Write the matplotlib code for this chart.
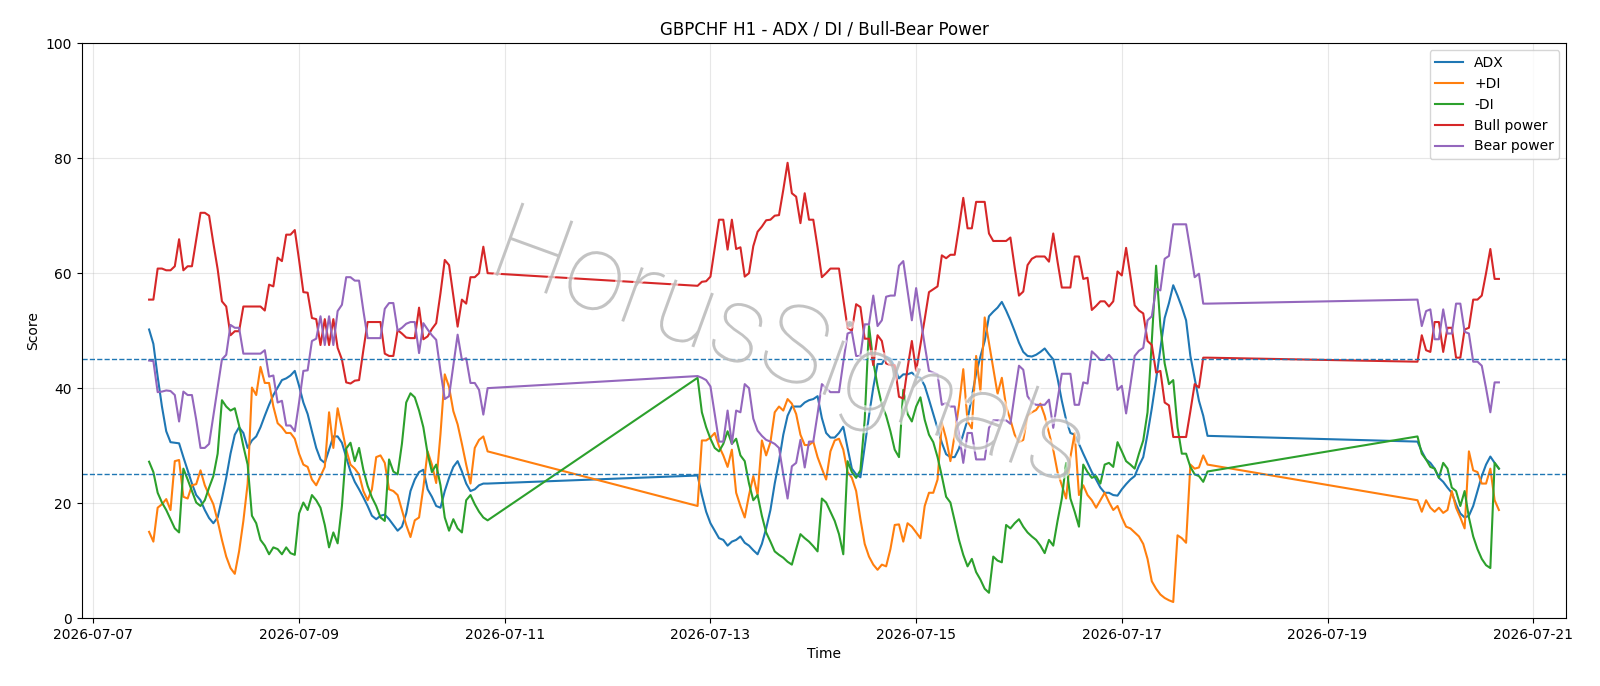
import pandas as pd
import matplotlib
matplotlib.use("Agg")
import matplotlib.pyplot as plt
import matplotlib.dates as mdates
import matplotlib.patheffects as pe

# hourly bars, three trading blocks (weekends missing)
seg_starts = ["2026-07-07 13:00", "2026-07-12 21:00", "2026-07-19 21:00"]
seg_lengths = [80, 120, 20]

adx = [
    50.2, 47.7, 42.0, 36.8, 32.5, 30.6, 30.5, 30.4, 28.0, 25.7,
    23.4, 21.4, 20.5, 18.8, 17.4, 16.5, 17.5, 20.8, 24.4, 28.6,
    31.9, 33.2, 32.2, 29.6, 30.9, 31.6, 33.2, 35.2, 37.1, 38.8,
    40.1, 41.4, 41.7, 42.2, 43.0, 40.4, 37.5, 35.5, 32.5, 29.6,
    27.6, 27.0, 29.3, 31.6, 31.6, 30.5, 28.0, 25.5, 23.7, 22.4,
    21.0, 19.5, 17.8, 17.2, 17.8, 18.0, 17.2, 16.2, 15.2, 15.9,
    18.2, 22.1, 24.1, 25.4, 25.8, 22.4, 21.1, 19.5, 19.2, 22.1,
    24.4, 26.3, 27.3, 25.5, 23.4, 22.1, 22.4, 23.1, 23.4, 23.4,
    # week 2
    24.8, 21.4, 18.5, 16.5, 15.2, 13.9, 13.6, 12.6, 13.3, 13.6,
    14.2, 13.1, 12.6, 11.8, 11.1, 12.9, 15.6, 18.8, 23.4, 27.3,
    31.9, 35.2, 36.8, 36.8, 36.8, 37.5, 37.9, 38.1, 38.6, 34.8,
    32.2, 31.4, 31.4, 32.2, 33.3, 29.6, 26.0, 25.0, 24.5, 29.9,
    35.2, 40.1, 44.2, 44.2, 45.5, 45.1, 43.7, 41.7, 42.4, 42.4,
    42.7, 42.0, 41.8, 40.4, 38.0, 35.5, 33.0, 30.5, 28.5, 28.0,
    28.0, 29.5, 32.0, 34.5, 38.5, 42.5, 45.5, 48.2, 52.5, 53.3,
    54.0, 55.0, 53.5, 51.8, 49.9, 47.9, 46.3, 45.6, 45.5, 45.8,
    46.3, 46.9, 45.9, 45.0, 41.7, 37.8, 34.5, 32.2, 31.9, 30.3,
    28.6, 27.0, 25.4, 24.1, 22.7, 21.8, 21.8, 21.4, 21.3, 22.4,
    23.3, 24.1, 24.7, 26.5, 28.0, 32.0, 36.5, 41.5, 46.9, 52.2,
    54.8, 57.9, 56.1, 54.1, 51.8, 45.6, 41.7, 37.8, 35.2, 31.7,
    # week 3
    30.7, 29.0, 27.6, 27.0, 26.0, 24.4, 23.7, 22.7, 21.8, 19.8,
    18.2, 17.5, 17.8, 19.5, 22.1, 24.7, 26.7, 28.1, 27.0, 26.0,
]

plus_di = [
    15.0, 13.3, 19.2, 19.8, 20.7, 18.8, 27.3, 27.5, 21.1, 20.8,
    23.1, 23.3, 25.7, 23.1, 21.4, 19.8, 16.9, 13.6, 10.7, 8.7,
    7.7, 11.6, 16.9, 23.4, 40.1, 38.8, 43.7, 40.9, 40.9, 36.8,
    33.9, 33.2, 32.2, 32.2, 31.2, 28.6, 26.7, 26.3, 24.1, 23.1,
    24.7, 26.3, 35.8, 29.6, 36.5, 33.0, 29.3, 26.7, 26.0, 25.0,
    22.1, 20.5, 22.4, 28.0, 28.3, 27.0, 22.4, 22.1, 21.4, 18.8,
    16.2, 14.1, 17.0, 17.5, 22.7, 29.0, 26.7, 23.5, 32.0, 42.4,
    40.2, 36.0, 33.7, 30.3, 26.7, 23.4, 29.6, 31.0, 31.6, 29.0,
    # week 2
    19.5, 30.9, 30.9, 31.4, 32.2, 29.9, 28.3, 26.3, 29.3, 21.8,
    19.5, 17.5, 21.4, 24.7, 21.4, 30.9, 28.3, 30.6, 35.8, 36.8,
    36.1, 38.1, 37.3, 35.5, 31.9, 30.1, 30.1, 30.7, 28.0, 26.0,
    24.1, 29.0, 30.9, 31.2, 29.3, 25.4, 24.4, 22.1, 17.2, 12.9,
    10.7, 9.3, 8.4, 9.3, 9.0, 12.0, 16.2, 16.3, 13.3, 16.5,
    15.9, 14.9, 13.9, 19.5, 21.8, 21.8, 24.1, 34.0, 31.2, 27.3,
    31.9, 37.0, 43.3, 34.2, 33.0, 45.6, 39.5, 52.3, 47.9, 43.4,
    39.0, 41.8, 36.8, 34.5, 31.9, 30.6, 31.0, 35.2, 35.8, 36.2,
    37.3, 35.2, 32.2, 29.3, 25.4, 23.1, 20.8, 28.0, 32.2, 21.4,
    23.1, 21.4, 20.5, 19.2, 20.5, 21.8, 20.2, 18.8, 19.5, 17.5,
    15.9, 15.6, 14.9, 14.2, 12.9, 10.3, 6.4, 5.1, 4.1, 3.5,
    3.1, 2.8, 14.4, 13.9, 13.1, 26.7, 26.0, 26.2, 28.3, 26.7,
    # week 3
    20.5, 18.5, 20.5, 19.2, 18.5, 19.2, 18.3, 18.8, 22.1, 19.2,
    17.5, 15.6, 29.0, 25.7, 25.4, 23.4, 23.4, 26.0, 20.5, 18.8,
]

minus_di = [
    27.2, 25.4, 21.8, 20.1, 18.8, 17.2, 15.6, 14.9, 26.0, 24.1,
    22.1, 20.1, 19.5, 20.5, 22.7, 24.7, 28.6, 37.9, 36.8, 36.1,
    36.5, 33.5, 29.9, 26.7, 17.8, 16.5, 13.6, 12.6, 11.1, 12.3,
    12.0, 11.1, 12.3, 11.3, 11.0, 18.2, 20.1, 18.8, 21.4, 20.5,
    19.2, 16.2, 12.3, 14.9, 13.0, 19.5, 29.5, 30.5, 27.3, 29.6,
    25.8, 23.0, 21.0, 19.5, 17.5, 16.9, 27.6, 25.5, 25.0, 30.3,
    37.5, 39.1, 38.4, 36.1, 33.2, 28.6, 25.4, 26.7, 23.1, 17.5,
    15.2, 17.2, 15.6, 14.9, 20.5, 21.4, 19.8, 18.5, 17.5, 17.0,
    # week 2
    41.8, 35.8, 33.2, 31.2, 29.6, 29.0, 30.3, 32.5, 30.3, 31.2,
    28.3, 27.3, 23.4, 20.5, 21.4, 17.8, 14.9, 13.3, 11.6, 11.0,
    10.5, 9.8, 9.3, 12.0, 14.6, 13.9, 13.3, 12.5, 11.6, 20.8,
    20.1, 18.5, 16.9, 14.6, 11.1, 27.3, 25.4, 24.4, 25.7, 34.5,
    50.8, 44.6, 40.4, 37.1, 35.2, 32.5, 29.3, 28.0, 39.7, 35.5,
    34.2, 36.8, 38.4, 34.5, 31.9, 30.6, 28.0, 24.7, 21.1, 20.1,
    16.9, 13.6, 11.0, 9.0, 10.3, 8.0, 6.7, 5.1, 4.4, 10.7,
    10.0, 9.7, 16.2, 15.6, 16.5, 17.2, 15.9, 14.9, 14.2, 13.6,
    12.6, 11.3, 13.6, 12.6, 16.9, 20.8, 27.0, 20.8, 18.5, 15.9,
    26.7, 25.4, 24.4, 24.7, 23.4, 26.7, 27.0, 26.3, 30.6, 29.0,
    27.3, 26.7, 26.0, 28.6, 30.9, 35.8, 48.2, 61.3, 50.8, 44.3,
    40.7, 41.4, 33.2, 28.6, 28.6, 26.3, 25.0, 24.7, 23.7, 25.5,
    # week 3
    31.6, 28.6, 27.6, 26.3, 26.0, 24.4, 27.0, 26.0, 22.7, 22.1,
    19.5, 22.1, 17.5, 14.2, 12.0, 10.3, 9.2, 8.7, 27.0, 26.0,
]

bull = [
    55.4, 55.4, 60.8, 60.8, 60.5, 60.5, 61.2, 65.9, 60.5, 61.2,
    61.2, 65.9, 70.5, 70.5, 70.0, 65.2, 60.7, 55.1, 54.2, 49.2,
    49.9, 49.9, 54.2, 54.2, 54.2, 54.2, 54.2, 53.5, 58.0, 57.7,
    62.7, 62.1, 66.7, 66.7, 67.5, 62.3, 56.7, 56.6, 52.2, 52.0,
    47.5, 52.0, 47.5, 52.0, 47.0, 45.0, 41.0, 40.8, 41.3, 41.4,
    46.6, 51.5, 51.5, 51.5, 51.5, 46.0, 45.6, 45.6, 50.1, 49.5,
    48.8, 48.7, 48.7, 54.0, 48.5, 49.0, 50.3, 51.3, 56.5, 62.3,
    61.4, 56.0, 50.7, 55.4, 54.7, 59.3, 59.3, 60.0, 64.6, 60.0,
    # week 2
    57.8, 58.5, 58.6, 59.4, 64.3, 69.3, 69.3, 64.1, 69.3, 64.2,
    64.5, 59.4, 60.0, 64.7, 67.2, 68.1, 69.2, 69.3, 70.0, 70.1,
    74.5, 79.2, 73.9, 73.3, 68.7, 73.9, 69.3, 69.3, 64.5, 59.3,
    60.0, 60.8, 60.8, 60.8, 55.5, 50.5, 50.0, 54.6, 54.1, 48.6,
    48.6, 44.0, 49.2, 48.2, 44.3, 44.0, 44.0, 38.5, 38.2, 43.5,
    48.2, 43.0, 47.5, 52.0, 56.7, 57.2, 57.7, 63.1, 62.6, 63.2,
    63.2, 68.0, 73.1, 67.8, 67.8, 72.4, 72.4, 72.4, 66.9, 65.6,
    65.6, 65.6, 65.6, 66.2, 61.0, 56.1, 56.8, 61.4, 62.5, 62.9,
    62.9, 62.9, 62.0, 66.9, 62.0, 57.5, 57.5, 57.5, 62.9, 62.9,
    59.0, 59.2, 53.6, 54.3, 55.1, 55.1, 54.2, 55.1, 60.3, 59.6,
    64.4, 59.5, 54.4, 53.5, 53.0, 48.2, 47.5, 42.7, 43.0, 37.5,
    37.0, 31.5, 31.5, 31.5, 31.5, 36.0, 40.7, 40.1, 45.3, 45.3,
    # week 3
    44.6, 49.2, 46.6, 46.3, 51.5, 51.5, 46.3, 50.5, 50.5, 45.3,
    45.3, 50.2, 50.5, 55.4, 55.4, 56.1, 60.0, 64.2, 59.0, 59.0,
]

bear = [
    44.8, 44.7, 39.3, 39.4, 39.6, 39.5, 38.8, 34.2, 39.4, 38.8,
    38.8, 34.5, 29.6, 29.6, 30.3, 35.2, 40.0, 45.0, 45.8, 51.0,
    50.5, 50.5, 46.0, 46.0, 46.0, 46.0, 46.0, 46.6, 42.0, 42.2,
    37.5, 37.8, 33.5, 33.5, 32.5, 37.5, 43.0, 43.1, 48.2, 48.6,
    52.5, 47.5, 52.5, 47.5, 53.4, 54.5, 59.3, 59.3, 58.7, 58.7,
    53.5, 48.7, 48.7, 48.7, 48.7, 53.8, 54.8, 54.8, 50.0, 50.5,
    51.2, 51.5, 51.5, 46.1, 51.3, 50.2, 49.2, 48.4, 43.0, 38.1,
    38.6, 44.0, 49.3, 44.9, 45.2, 40.9, 40.9, 39.7, 35.4, 40.0,
    # week 2
    42.1, 41.8, 41.4, 40.3, 35.5, 30.7, 30.7, 36.1, 30.3, 36.1,
    35.8, 40.7, 40.0, 34.7, 32.6, 31.7, 31.0, 30.7, 30.3, 29.6,
    25.0, 20.8, 26.4, 27.0, 31.0, 26.2, 30.7, 30.7, 35.5, 40.7,
    40.0, 39.3, 39.3, 39.3, 44.5, 49.5, 49.8, 45.6, 45.6, 51.1,
    51.1, 56.1, 50.8, 51.8, 55.9, 56.1, 56.1, 61.3, 62.1, 57.0,
    51.8, 57.4, 52.3, 47.5, 43.0, 42.7, 42.4, 37.1, 37.4, 36.8,
    36.8, 32.0, 27.0, 32.2, 32.2, 27.6, 27.6, 27.6, 33.1, 34.4,
    34.4, 34.4, 34.4, 33.8, 39.0, 43.9, 43.2, 38.6, 37.5, 37.1,
    37.1, 37.1, 38.0, 33.1, 38.0, 42.5, 42.5, 42.5, 37.1, 37.1,
    41.0, 40.8, 46.4, 45.7, 44.9, 44.9, 45.8, 44.9, 39.7, 40.4,
    35.6, 40.5, 45.6, 46.5, 47.0, 51.8, 52.5, 57.3, 57.0, 62.5,
    63.0, 68.5, 68.5, 68.5, 68.5, 64.0, 59.3, 59.9, 54.7, 54.7,
    # week 3
    55.4, 50.8, 53.4, 53.7, 48.5, 48.5, 53.7, 49.5, 49.5, 54.7,
    54.7, 49.8, 49.5, 44.6, 44.6, 43.9, 40.0, 35.8, 41.0, 41.0,
]

series = [
    ("ADX", adx),
    ("+DI", plus_di),
    ("-DI", minus_di),
    ("Bull power", bull),
    ("Bear power", bear),
]

times = pd.DatetimeIndex(
    pd.concat([pd.Series(pd.date_range(s, periods=n, freq="h")) for s, n in zip(seg_starts, seg_lengths)])
)
for name, vals in series:
    assert len(vals) == len(times), (name, len(vals))

fig, ax = plt.subplots(figsize=(16, 6.86), dpi=100)
fig.subplots_adjust(left=0.051, right=0.979, top=0.937, bottom=0.099)

for name, vals in series:
    ax.plot(times, vals, label=name, linewidth=1.5)

ax.axhline(45, linestyle="--", linewidth=1, color="C0")
ax.axhline(25, linestyle="--", linewidth=1, color="C0")

ax.set_ylim(0, 100)
ax.set_title("GBPCHF H1 - ADX / DI / Bull-Bear Power")
ax.set_xlabel("Time")
ax.set_ylabel("Score")
ax.grid(True, alpha=0.3)
ax.set_xticks(pd.date_range("2026-07-07", "2026-07-21", freq="2D"))
ax.xaxis.set_major_formatter(mdates.DateFormatter("%Y-%m-%d"))
ax.legend(loc="upper right")

# watermark
ax.text(0.476, 0.465, "HorusSignals", transform=ax.transAxes, fontsize=78,
        family=["Roboto", "DejaVu Sans"], fontweight=100,
        color="#a0a0a0", alpha=0.5, rotation=-20, ha="center", va="center",
        rotation_mode="anchor", zorder=10,
        path_effects=[pe.withStroke(linewidth=3, foreground="white", alpha=0.6)])

fig.savefig("out.png")
